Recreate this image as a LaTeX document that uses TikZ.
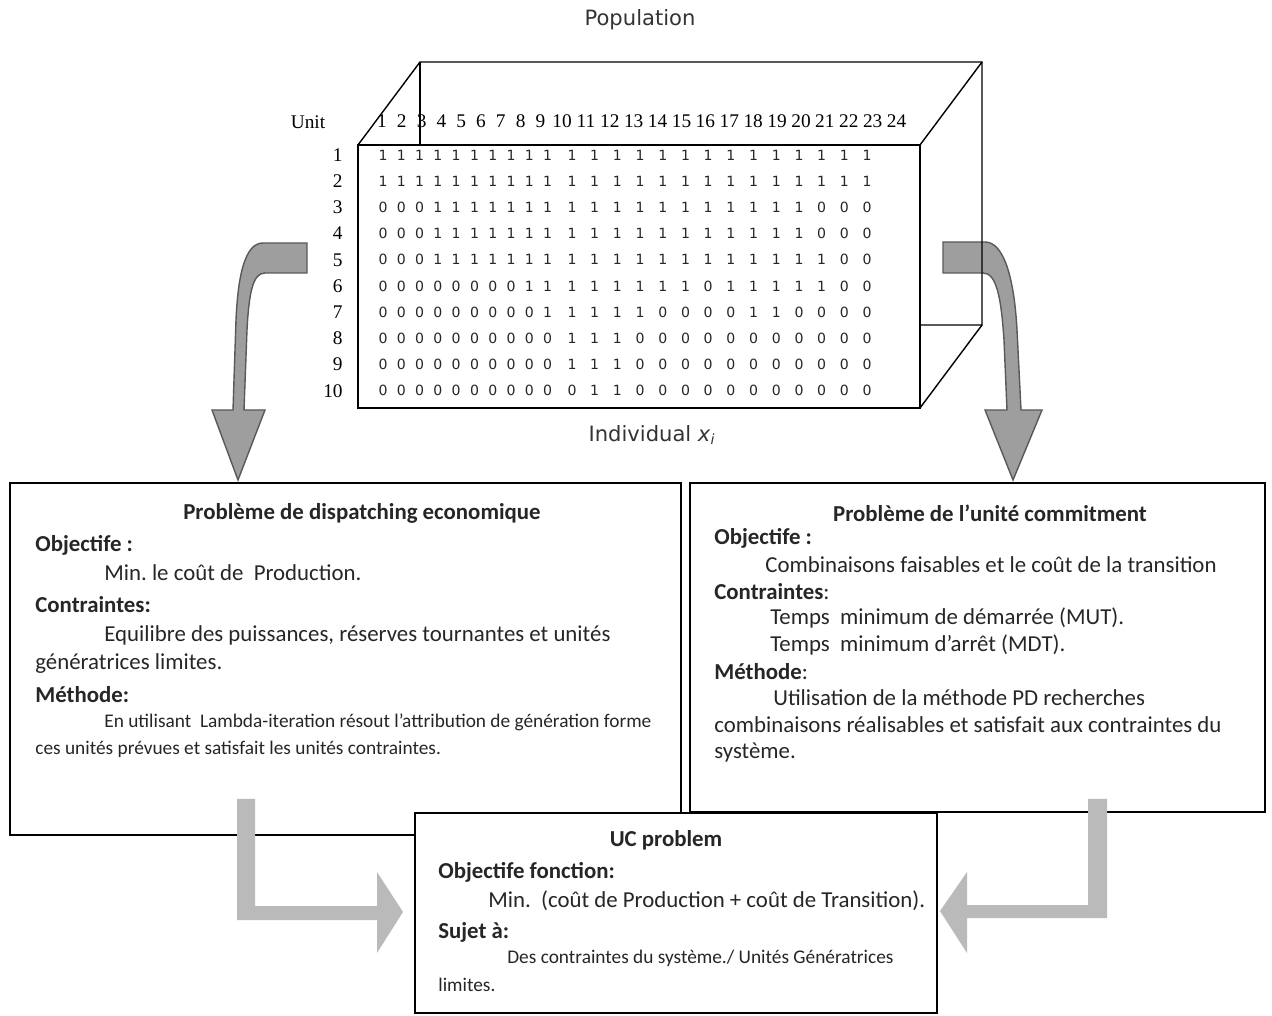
\documentclass[tikz,border=0pt]{standalone}
\usepackage{fontspec}
\setmainfont{Carlito}
\newfontfamily\serifnum{Liberation Serif}
\newfontfamily\bitfont{DejaVu Sans}
\frenchspacing
\usetikzlibrary{calc}
\tikzset{
  box/.style={draw,line width=1.4pt},
  cube/.style={draw,line width=.8pt},
  txt/.style={anchor=west,inner sep=0pt,text=black!85,font=\fontsize{13}{15}\selectfont},
  hd/.style={txt,font=\fontsize{13}{15}\selectfont\bfseries},
  sm/.style={txt,font=\fontsize{11}{12}\selectfont},
  lbl/.style={inner sep=0pt,text=black!80,font=\bitfont\fontsize{12}{14}\selectfont},
  num/.style={inner sep=0pt,font=\serifnum\fontsize{11}{12}\selectfont},
  bit/.style={inner sep=0pt,text=black!85,font=\bitfont\fontsize{8}{9}\selectfont},
  fatdark/.style={fill=black!38,draw=black!65,line width=.8pt},
  fatlight/.style={fill=black!27,draw=none},
}
\begin{document}
\begin{tikzpicture}[x=0.02cm,y=-0.02cm]
  \useasboundingbox (0,0) rectangle (1272,1016);
  % curved arrows out of the population
  \draw[fatdark] (307,243) -- (263,243) .. controls (245,243) and (238,275) .. (236,320)
    -- (233,410) -- (212,410) -- (238,480) -- (265,410) -- (244,410) -- (247,330)
    .. controls (249,292) and (253,273) .. (265,273) -- (307,273) -- cycle;
  \draw[fatdark] (943,242) -- (985,242) .. controls (1003,242) and (1014,275) .. (1017,330)
    -- (1021,410) -- (1042,410) -- (1013,480) -- (985,410) -- (1007,410) -- (1004,340)
    .. controls (1001,295) and (996,273) .. (983,273) -- (943,273) -- cycle;
  % population block
  \draw[cube] (358,145) rectangle (920,408);
  \draw[cube] (358,145) -- (420,62) -- (982,62) -- (982,325) -- (920,325);
  \draw[cube] (420,62) -- (420,145);
  \draw[cube] (920,145) -- (982,62);
  \draw[cube] (920,408) -- (982,325);
  \node[lbl] (pop) at (640,20) {Population};
  \node[num] (unit) at (308,122) {Unit};
  \foreach \k in {1,...,24}{
    \pgfmathsetmacro\hx{\k<10 ? 382+(\k-1)*19.8 : 562+(\k-10)*23.9}
    \node[num] (c\k) at (\hx,121) {\k};
  }
  \foreach \row [count=\i] in {
    {1,1,1,1,1,1,1,1,1,1,1,1,1,1,1,1,1,1,1,1,1,1,1,1},
    {1,1,1,1,1,1,1,1,1,1,1,1,1,1,1,1,1,1,1,1,1,1,1,1},
    {0,0,0,1,1,1,1,1,1,1,1,1,1,1,1,1,1,1,1,1,1,0,0,0},
    {0,0,0,1,1,1,1,1,1,1,1,1,1,1,1,1,1,1,1,1,1,0,0,0},
    {0,0,0,1,1,1,1,1,1,1,1,1,1,1,1,1,1,1,1,1,1,1,0,0},
    {0,0,0,0,0,0,0,0,1,1,1,1,1,1,1,1,0,1,1,1,1,1,0,0},
    {0,0,0,0,0,0,0,0,0,1,1,1,1,1,0,0,0,0,1,1,0,0,0,0},
    {0,0,0,0,0,0,0,0,0,0,1,1,1,0,0,0,0,0,0,0,0,0,0,0},
    {0,0,0,0,0,0,0,0,0,0,1,1,1,0,0,0,0,0,0,0,0,0,0,0},
    {0,0,0,0,0,0,0,0,0,0,0,1,1,0,0,0,0,0,0,0,0,0,0,0}}{
    \pgfmathsetmacro\ry{128.8+26.2*\i}
    \node[num,anchor=east] (u\i) at (343,\ry) {\i};
    \foreach \v [count=\k] in \row {
      \pgfmathsetmacro\cx{\k<11 ? 383+(\k-1)*18.3 : 572+(\k-11)*22.7}
      \node[bit] (b\i-\k) at (\cx,\ry) {\v};
    }
  }
  \node[lbl] (indiv) at (652,435) {Individual \textit{x}\textsubscript{\textit{i}}};
  % the two sub-problems
  \draw[box] (10,483) rectangle (681,835);
  \node[hd,anchor=center] (dtitle) at (362,513) {Problème de dispatching economique};
  \node[hd] (dobj) at (35,545) {Objectife :};
  \node[txt] (dobjt) at (104,573) {Min. le coût de\ \ Production.};
  \node[hd] (dcon) at (35,605) {Contraintes:};
  \node[txt] (dcon1) at (104,635) {Equilibre des puissances, réserves tournantes et unités};
  \node[txt] (dcon2) at (35,664) {génératrices limites.};
  \node[hd] (dmet) at (35,695) {Méthode:};
  \node[sm] (dmet1) at (104,722) {En utilisant\ \ Lambda-iteration résout l'attribution de génération forme};
  \node[sm] (dmet2) at (35,749) {ces unités prévues et satisfait les unités contraintes.};
  \draw[box] (690,483) rectangle (1265,812);
  \node[hd,anchor=center] (ctitle) at (990,513) {Problème de l’unité commitment};
  \node[hd] (cobj) at (714,538) {Objectife :};
  \node[txt] (cobjt) at (765,565) {Combinaisons faisables et le coût de la transition};
  \node[txt] (ccon) at (714,592) {\textbf{Contraintes}:};
  \node[txt] (ccon1) at (770,618) {Temps\ \ minimum de démarrée (MUT).};
  \node[txt] (ccon2) at (770,645) {Temps\ \ minimum d’arrêt (MDT).};
  \node[txt] (cmet) at (714,672) {\textbf{Méthode}:};
  \node[txt] (cmet1) at (773,698) {Utilisation de la méthode PD recherches};
  \node[txt] (cmet2) at (714,725) {combinaisons réalisables et satisfait aux contraintes du};
  \node[txt] (cmet3) at (714,753) {système.};
  % arrows into the UC problem
  \draw[fatlight] (237,799) -- (255,799) -- (255,906) -- (377,906) -- (377,872) -- (403,912)
    -- (377,953) -- (377,920) -- (237,920) -- cycle;
  \draw[fatlight] (1088,799) -- (1107,799) -- (1107,918) -- (967,918) -- (967,953) -- (940,911)
    -- (967,872) -- (967,905) -- (1088,905) -- cycle;
  \draw[box,fill=white] (415,813) rectangle (937,1013);
  \node[hd,anchor=center] (utitle) at (666,840) {UC problem};
  \node[hd] (uobj) at (438,872) {Objectife fonction:};
  \node[txt] (uobjt) at (488,901) {Min.\ \ (coût de Production + coût de Transition).};
  \node[hd] (usuj) at (438,932) {Sujet à:};
  \node[sm] (usuj1) at (507,958) {Des contraintes du système./ Unités Génératrices};
  \node[sm] (usuj2) at (438,985) {limites.};
\end{tikzpicture}
\end{document}
